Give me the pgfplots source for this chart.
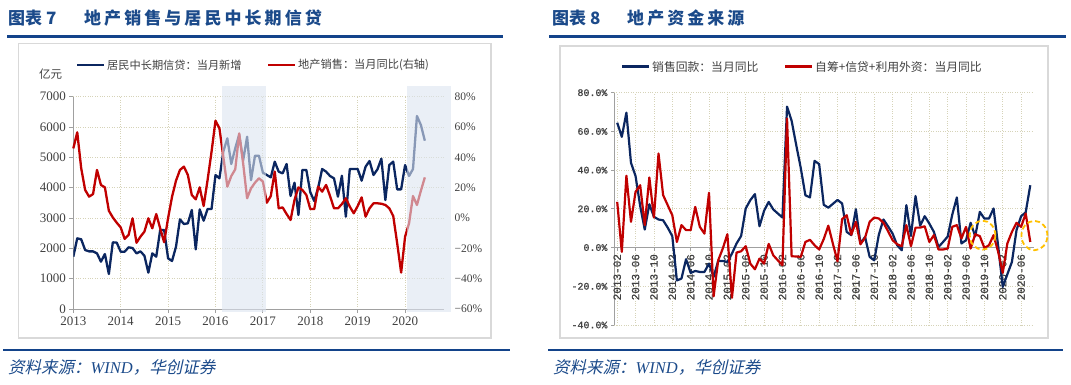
\documentclass[border=0pt]{standalone}
\usepackage{fontspec}
\usepackage{pgfplots}
\usepackage{pgfplotstable}
\pgfplotsset{compat=1.18}
\setmainfont{Liberation Serif}
\newfontfamily\cjk{Noto Sans CJK SC}
\newfontfamily\cjktitle[LetterSpace=18]{Noto Sans CJK SC}
\newfontfamily\cjkit[FakeSlant=0.22]{Noto Sans CJK SC}
\newfontfamily\serifit{Liberation Serif Italic}
\newfontfamily\mono[FakeBold=0.8]{Liberation Mono}
\newfontfamily\serif{Liberation Serif}
\definecolor{navy}{HTML}{0B2660}
\definecolor{dred}{HTML}{C00000}
\definecolor{gridc}{HTML}{D6D3B8}
\definecolor{axisgray}{HTML}{A0A0A0}
\definecolor{framegray}{HTML}{D9D9D9}
\definecolor{titleblue}{HTML}{1B4A8A}
\definecolor{rulec}{HTML}{13438A}
\definecolor{labelc}{HTML}{404040}
\definecolor{shadec}{HTML}{DCE4F0}
\definecolor{gold}{HTML}{FFC000}

\pgfplotstableread{
loan sales
1725 45.9
2330 56.5
2297 32.8
1945 18.5
1900 14.1
1900 15.8
1835 31.7
1560 21.8
1813 20.2
1154 4.8
2198 0.4
2187 -3.1
1890 -6.2
1890 -13.8
2033 -11.2
2011 -0.2
1835 -16.3
1900 -12.3
1758 -9.0
1198 -0.2
1835 -6.8
1725 2.6
2605 -6.8
2605 -16.0
1670 0.0
1583 14.0
2055 24.6
2956 31.7
2802 33.9
2824 28.4
3264 15.2
1967 12.3
3286 20.2
2912 7.9
3297 25.1
3297 43.7
4418 64.2
4308 59.1
5200 40.0
5627 20.7
4780 27.7
5300 32.1
5750 55.8
4900 36.0
5680 13.0
4250 19.6
5055 23.3
5055 26.2
4495 24.0
4418 10.1
4341 14.5
4858 30.6
4528 6.4
4473 7.0
4781 2.6
3726 -1.3
4165 11.9
3099 20.2
4583 18.5
4583 15.2
3850 5.9
3560 5.9
4000 20.7
4616 17.4
4528 21.8
4385 14.5
4308 6.4
3704 6.4
4396 9.2
3044 13.0
4616 7.5
4616 3.1
4616 7.9
4231 13.6
4693 0.9
4880 6.4
4418 9.7
4605 9.7
4957 9.4
3594 8.6
4748 6.4
4858 1.3
3945 -16.7
3945 -36.0
4748 -12.3
4385 -3.5
4616 14.5
6363 8.6
6066 18.0
5550 26.8
}\leftdata

\pgfplotstableread{
rev fund
64.5 23.6
57.2 -2.2
69.7 37.1
43.8 13.3
36.9 28.8
21.5 32.2
9.3 11.6
22.4 36.2
15.9 15.5
14.5 48.6
14.1 27.1
10.3 21.9
5.9 16.7
-17.0 2.9
-16.0 11.6
-6.0 9.0
-13.1 9.0
-12.1 21.0
-12.6 10.7
-12.6 7.2
-8.3 28.3
-15.2 -25.2
-6.9 -6.6
-6.9 -0.5
-7.4 6.9
-3.1 -25.9
2.1 -2.6
6.0 -1.9
20.2 0.7
24.5 -8.3
27.6 -11.2
11.0 -5.7
19.0 -8.3
23.6 1.9
19.7 -4.0
17.6 -6.6
15.5 -9.1
72.8 66.7
65.5 -4.5
53.0 -4.6
41.0 -4.8
27.0 2.9
25.9 4.0
44.8 1.2
43.1 -1.0
22.1 4.4
20.6 11.3
22.6 1.9
24.6 -7.1
22.8 14.7
8.1 16.7
6.4 6.6
19.8 13.3
2.1 1.7
5.5 5.1
-4.8 13.3
-6.6 15.5
6.6 15.0
14.5 12.8
11.0 8.5
7.2 3.8
1.2 1.7
-1.4 0.7
21.9 11.6
6.0 0.7
26.6 10.3
11.3 10.3
16.2 11.0
12.4 2.9
8.1 6.4
0.3 -1.0
2.9 -1.0
5.7 -0.5
17.0 10.7
25.9 11.6
2.1 4.7
3.8 10.7
12.8 -0.5
5.8 6.9
18.4 5.9
15.0 -0.2
15.0 1.2
20.2 6.4
0.8 -2.2
-20.3 -13.1
-13.8 2.1
-7.4 8.1
9.0 12.8
16.2 10.7
18.2 17.6
32.2 2.9
}\rightdata

\begin{document}
\begin{tikzpicture}
\path[use as bounding box] (0,0) rectangle (1071pt,-385pt);

% ---------- titles and rules ----------
\node[anchor=west, inner sep=0, text=titleblue, font=\cjk\bfseries\fontsize{17}{17}\selectfont] at (8pt,-18.5pt) {图表 7};
\node[anchor=west, inner sep=0, text=titleblue, font=\cjktitle\bfseries\fontsize{17}{17}\selectfont] at (84pt,-18.5pt) {地产销售与居民中长期信贷};
\node[anchor=west, inner sep=0, text=titleblue, font=\cjk\bfseries\fontsize{17}{17}\selectfont] at (552pt,-18.5pt) {图表 8};
\node[anchor=west, inner sep=0, text=titleblue, font=\cjktitle\bfseries\fontsize{17}{17}\selectfont] at (627pt,-18.5pt) {地产资金来源};
\draw[rulec, line width=2.5pt] (7pt,-36.5pt) -- (503pt,-36.5pt);
\draw[rulec, line width=2.5pt] (549pt,-36.5pt) -- (1066pt,-36.5pt);
\draw[rulec, line width=2.5pt] (3pt,-350pt) -- (510pt,-350pt);
\draw[rulec, line width=2.5pt] (548pt,-350pt) -- (1063pt,-350pt);
\node[anchor=west, inner sep=0, text=titleblue, font=\cjkit\fontsize{16.5}{16.5}\selectfont] at (8pt,-367pt) {资料来源：{\serifit WIND}，华创证券};
\node[anchor=west, inner sep=0, text=titleblue, font=\cjkit\fontsize{16.5}{16.5}\selectfont] at (553pt,-367pt) {资料来源：{\serifit WIND}，华创证券};

% ---------- frames ----------
\draw[framegray, line width=1.2pt] (18.5pt,-43.5pt) rectangle (491pt,-338pt);
\draw[framegray, line width=1.2pt] (560pt,-46pt) rectangle (1048pt,-338pt);

% ---------- legends ----------
\draw[navy, line width=2.5pt] (77pt,-65pt) -- (104pt,-65pt);
\node[anchor=west, inner sep=0, text=labelc, font=\cjk\fontsize{11.2}{11.2}\selectfont] at (107pt,-65pt) {居民中长期信贷：当月新增};
\draw[dred, line width=2.5pt] (268pt,-65pt) -- (295pt,-65pt);
\node[anchor=west, inner sep=0, text=labelc, font=\cjk\fontsize{11.2}{11.2}\selectfont] at (298pt,-65pt) {地产销售：当月同比(右轴)};
\node[inner sep=0, text=labelc, font=\cjk\fontsize{11.5}{11.5}\selectfont] at (50.5pt,-74pt) {亿元};

\draw[navy, line width=2.5pt] (622pt,-66.7pt) -- (649pt,-66.7pt);
\node[anchor=west, inner sep=0, text=labelc, font=\cjk\fontsize{11.8}{11.8}\selectfont] at (652pt,-66.7pt) {销售回款：当月同比};
\draw[dred, line width=2.5pt] (785pt,-66.7pt) -- (812pt,-66.7pt);
\node[anchor=west, inner sep=0, text=labelc, font=\cjk\fontsize{11.8}{11.8}\selectfont] at (815pt,-66.7pt) {自筹+信贷+利用外资：当月同比};

% ---------- left chart, left axis ----------
\begin{axis}[
  at={(73.3pt,-309pt)}, anchor=south west,
  scale only axis, width=370.9pt, height=212.3pt,
  xmin=0, xmax=93.9, ymin=0, ymax=7000,
  axis x line*=bottom, axis y line*=left,
  axis line style={-, draw=axisgray, line width=0.9pt},
  xtick={0,12,24,36,48,60,72,84},
  xticklabels={2013,2014,2015,2016,2017,2018,2019,2020},
  ytick={0,1000,2000,3000,4000,5000,6000,7000},
  yticklabels={0,1000,2000,3000,4000,5000,6000,7000},
  tick align=outside, major tick length=4pt,
  tick style={draw=axisgray, line width=0.9pt},
  grid=major, grid style={draw=gridc, dotted, line width=0.8pt},
  ticklabel style={font=\serif\fontsize{13}{13}\selectfont, text=labelc},
]
\addplot[navy, line width=2.3pt, line join=round, no marks] table[x expr=\coordindex, y=loan]{\leftdata};
\end{axis}

% ---------- left chart, right axis ----------
\begin{axis}[
  at={(73.3pt,-309pt)}, anchor=south west,
  scale only axis, width=370.9pt, height=212.3pt,
  xmin=0, xmax=93.9, ymin=-60, ymax=80,
  axis x line=none, axis y line*=right,
  y axis line style={draw=none},
  ytick={-60,-40,-20,0,20,40,60,80},
  yticklabels={−60\%,−40\%,−20\%,0\%,20\%,40\%,60\%,80\%},
  major tick length=0pt,
  yticklabel style={font=\serif\fontsize{11.5}{11.5}\selectfont, text=labelc, anchor=west, xshift=7pt},
  clip=false,
]
\addplot[dred, line width=2.3pt, line join=round, no marks] table[x expr=\coordindex, y=sales]{\leftdata};
\fill[shadec, fill opacity=0.6] (axis cs:37.7,-61.8) rectangle (axis cs:48.7,87.05);
\fill[shadec, fill opacity=0.6] (axis cs:84.6,-61.8) rectangle (axis cs:95.5,87.05);
\end{axis}

% ---------- right chart ----------
\begin{axis}[
  at={(614pt,-325pt)}, anchor=south west,
  scale only axis, width=419.5pt, height=232.3pt,
  xmin=-0.7, xmax=90.7, ymin=-40, ymax=80,
  axis x line=middle, axis y line=left,
  axis line style={-, draw=axisgray, line width=0.9pt},
  xtick={0,4,...,88},
  xticklabels={2013-02,2013-06,2013-10,2014-02,2014-06,2014-10,2015-02,2015-06,2015-10,2016-02,2016-06,2016-10,2017-02,2017-06,2017-10,2018-02,2018-06,2018-10,2019-02,2019-06,2019-10,2020-02,2020-06},
  ytick={-40,-20,0,20,40,60,80},
  yticklabels={-40.0\%,-20.0\%,0.0\%,20.0\%,40.0\%,60.0\%,80.0\%},
  tick align=outside, major tick length=3pt,
  tick style={draw=axisgray, line width=0.8pt},
  grid=major, grid style={draw=gridc, dotted, line width=0.8pt},
  xticklabel style={rotate=90, anchor=east, font=\mono\fontsize{11}{11}\selectfont, text=labelc},
  yticklabel style={font=\mono\fontsize{10}{10}\selectfont, text=labelc},
  clip=false,
]
\addplot[navy, line width=2.2pt, line join=round, no marks] table[x expr=\coordindex, y=rev]{\rightdata};
\addplot[dred, line width=2.2pt, line join=round, no marks] table[x expr=\coordindex, y=fund]{\rightdata};
\draw[gold, line width=1.8pt, dash pattern=on 5pt off 3pt] (axis cs:79.6,6.4) ellipse [x radius=12.8pt, y radius=14.5pt];
\draw[gold, line width=1.8pt, dash pattern=on 5pt off 3pt] (axis cs:90.9,6.2) ellipse [x radius=13pt, y radius=14.7pt];
\end{axis}
\end{tikzpicture}
\end{document}
